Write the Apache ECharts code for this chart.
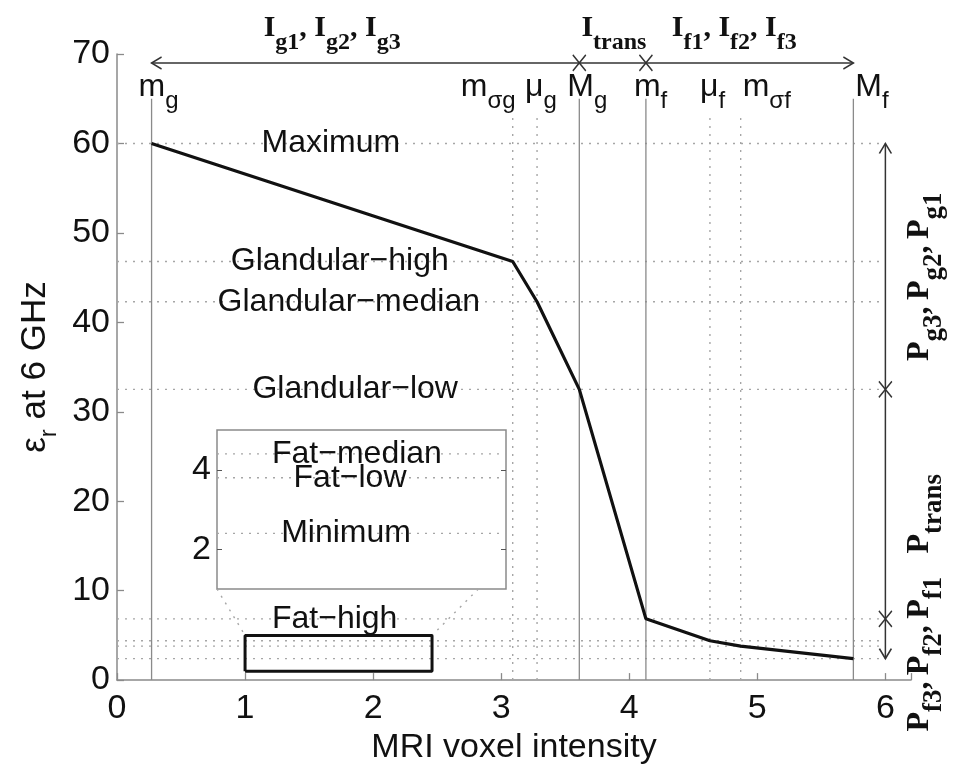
<!DOCTYPE html>
<html><head><meta charset="utf-8">
<script src="https://cdn.jsdelivr.net/npm/echarts@6/dist/echarts.min.js"></script>
<style>html,body{margin:0;padding:0;background:#fff}#c{width:968px;height:770px}</style>
</head><body><div id="c"></div>
<script>
// ---------- data ----------
const xTicks = [0, 1, 2, 3, 4, 5, 6];
const yTicks = [0, 10, 20, 30, 40, 50, 60, 70];
const curveX = [0.27, 3.09, 3.28, 3.61, 4.13, 4.63, 4.87, 5.75];
const curveY = [60, 46.8, 42.3, 32.5, 6.85, 4.4, 3.8, 2.4];
const solidMarks = [0.27, 3.61, 4.13, 5.75];
const dottedMarks = [3.09, 3.28, 4.63, 4.87];
const levelValues = [60, 46.8, 42.3, 32.5, 6.85, 4.4, 3.8, 2.4];
const levelSpan = [0, 6];
const solidTop = 65;
const dottedTop = 63.5;
const markNames = [['m','g'], ['m','σg'], ['μ','g'], ['M','g'], ['m','f'], ['μ','f'], ['m','σf'], ['M','f']];
const markNameY = 66.3;
const levelNames = ['Maximum', 'Glandular\u2212high', 'Glandular\u2212median', 'Glandular\u2212low', 'Fat\u2212high'];
const levelNameX = [1.67, 1.74, 1.81, 1.86, 1.70];
const zoomBoxX = [1, 2.46];
const zoomBoxY = [1, 5];
const insetTicks = [2, 4];
const insetLevels = [4.4, 3.8, 2.4];
const insetNames = ['Fat\u2212median', 'Fat\u2212low', 'Minimum'];
const insetNameX = [1.707, 1.672, 1.652];
const connectorEndX = [1, 2.32];
const arrowY = 69;
const arrowX = 6;
const groupNames = [[['I','g1'],['I','g2'],['I','g3']], [['I','trans']], [['I','f1'],['I','f2'],['I','f3']]];
const groupNameX = [1.68, 3.88, 4.82];
const groupNameY = 72.9;
const partNames = [[['P','g3'],['P','g2'],['P','g1']], [['P','trans']], [['P','f3'],['P','f2'],['P','f1']]];
const partNameX = 6.27;
const partNameY = [45.1, 18.6, 2.9];

// ---------- styles ----------
const SANS = "'Liberation Sans', Arial, Helvetica, sans-serif";
const SERIF = "'Liberation Serif', 'Times New Roman', Times, serif";
const INK = '#111111';
const AXIS = '#8a8a8a';
const DOT = '#a6a6a6';
const DOTS = [2, 6];
const markOffsets = [-13, -52, -12, -12, -12, -10, 2, 2];

const richSans = {
  a: {fontFamily: SANS, fontSize: 32, lineHeight: 52, color: INK, verticalAlign: 'middle'},
  s: {fontFamily: SANS, fontSize: 24, lineHeight: 24, color: INK, verticalAlign: 'bottom'}
};
const richSerif = {
  a: {fontFamily: SERIF, fontWeight: 'bold', fontSize: 30, lineHeight: 54, color: INK, verticalAlign: 'middle'},
  s: {fontFamily: SERIF, fontWeight: 'bold', fontSize: 24, lineHeight: 24, color: INK, verticalAlign: 'bottom'}
};
const richSerifBig = {
  a: {fontFamily: SERIF, fontWeight: 'bold', fontSize: 32, lineHeight: 56, color: INK, verticalAlign: 'middle'},
  s: {fontFamily: SERIF, fontWeight: 'bold', fontSize: 27, lineHeight: 27, color: INK, verticalAlign: 'bottom'}
};
const sub = (parts, sep) => parts.map(p => '{a|' + p[0] + '}{s|' + p[1] + '}').join('{a|' + (sep || ', ') + '}');

const series = [];
const lineSeries = (data, style, extra) => Object.assign({
  type: 'line', xAxisIndex: 0, yAxisIndex: 0, data: data, symbol: 'none', silent: true,
  lineStyle: style, z: 2
}, extra || {});
const dotted = {color: DOT, width: 1.4, type: DOTS};

// horizontal dotted levels
levelValues.forEach(v => series.push(lineSeries([[levelSpan[0], v], [levelSpan[1], v]], dotted)));
// vertical dotted marks
dottedMarks.forEach(x => series.push(lineSeries([[x, 0], [x, dottedTop]], dotted)));
// vertical solid marks
solidMarks.forEach(x => series.push(lineSeries([[x, 0], [x, solidTop]], {color: AXIS, width: 1.3})));
// curve
series.push(lineSeries(curveX.map((x, i) => [x, curveY[i]]), {color: '#111', width: 3.2}, {z: 6}));
// zoom rectangle
series.push(lineSeries([[zoomBoxX[0], zoomBoxY[0]], [zoomBoxX[1], zoomBoxY[0]], [zoomBoxX[1], zoomBoxY[1]],
  [zoomBoxX[0], zoomBoxY[1]], [zoomBoxX[0], zoomBoxY[0]]], {color: '#111', width: 3}, {z: 6}));

// arrows
const arrowStroke = {color: '#333', width: 1.5};
const topA = solidMarks[0], topB = solidMarks[solidMarks.length - 1];
const rightA = curveY[curveY.length - 1], rightB = curveY[0];
series.push(lineSeries([[topA, arrowY], [topB, arrowY]], arrowStroke, {z: 5}));
series.push(lineSeries([[arrowX, rightA], [arrowX, rightB]], arrowStroke, {z: 5, clip: false}));
const markStyle = {color: 'rgba(0,0,0,0)', borderColor: '#333', borderWidth: 1.5, opacity: 1};
const mk = (pt, symbol, size, offset) => ({value: pt, symbol: symbol, symbolSize: size, symbolOffset: offset});
const XSYM = 'path://M0,0L10,12M10,0L0,12';
series.push({
  type: 'scatter', xAxisIndex: 0, yAxisIndex: 0, silent: true, clip: false, z: 7,
  itemStyle: markStyle,
  data: [
    mk([topA, arrowY], 'path://M10,0L0,6L10,12', [10, 12], [5, 0]),
    mk([topB, arrowY], 'path://M0,0L10,6L0,12', [10, 12], [-5, 0]),
    mk([arrowX, rightB], 'path://M0,10L6,0L12,10', [12, 10], [0, 5]),
    mk([arrowX, rightA], 'path://M0,0L6,10L12,0', [12, 10], [0, -5]),
    mk([solidMarks[1], arrowY], XSYM, [13, 16], [0, 0]),
    mk([solidMarks[2], arrowY], XSYM, [13, 16], [0, 0]),
    mk([arrowX, levelValues[3]], XSYM, [13, 16], [0, 0]),
    mk([arrowX, levelValues[4]], XSYM, [13, 16], [0, 0])
  ]
});

// text labels helper
const textSeries = (xi, yi, items) => ({
  type: 'scatter', xAxisIndex: xi, yAxisIndex: yi, silent: true, clip: false, z: 8,
  symbol: 'circle', symbolSize: 1, itemStyle: {color: 'rgba(0,0,0,0)', opacity: 1},
  data: items
});
const txt = (pt, formatter, rich, opts) => ({
  value: pt,
  label: Object.assign({show: true, position: 'inside', formatter: formatter, rich: rich,
    color: INK, opacity: 1, textBorderWidth: 0,
    align: 'center', verticalAlign: 'middle'}, opts || {})
});

series.push(textSeries(0, 0, [
  ...markNames.map((m, i) => txt([curveX[i], markNameY], sub([m]), richSans, {align: 'left', offset: [markOffsets[i], 0]})),
  ...levelNames.map((n, i) => txt([levelNameX[i], levelValues[i]], '{a|' + n + '}', richSans)),
  ...groupNames.map((g, i) => txt([groupNameX[i], groupNameY], sub(g), richSerif)),
  ...partNames.map((g, i) => txt([partNameX, partNameY[i]], sub(g, ',\u2009'), richSerifBig, {rotate: 90}))
]));

// inset
insetLevels.forEach(v => series.push({
  type: 'line', xAxisIndex: 1, yAxisIndex: 1, data: [[zoomBoxX[0], v], [zoomBoxX[1], v]],
  symbol: 'none', silent: true, lineStyle: dotted, z: 4
}));
series.push(textSeries(1, 1, insetNames.map((n, i) => txt([insetNameX[i], insetLevels[i]], '{a|' + n + '}', richSans))));

const option = {
  animation: false,
  backgroundColor: '#fff',
  grid: [
    {left: 117, top: 54, width: 794, height: 635},
    {left: 217, top: 430, width: 289, height: 159, show: true, backgroundColor: '#fff', borderColor: AXIS, borderWidth: 1.5}
  ],
  xAxis: [
    {gridIndex: 0, type: 'value', min: xTicks[0], max: 6.2, interval: xTicks[1] - xTicks[0],
      axisLine: {lineStyle: {color: AXIS, width: 1.5}},
      axisTick: {inside: true, length: 7, lineStyle: {color: AXIS, width: 1.3}},
      axisLabel: {fontSize: 34, color: INK, margin: 12, fontFamily: SANS,
        formatter: v => (xTicks.indexOf(v) >= 0 ? String(v) : '')},
      splitLine: {show: false},
      name: 'MRI voxel intensity', nameLocation: 'middle', nameGap: 42,
      nameTextStyle: {fontSize: 34, color: INK, fontFamily: SANS}},
    {gridIndex: 1, type: 'value', min: zoomBoxX[0], max: zoomBoxX[1], show: false}
  ],
  yAxis: [
    {gridIndex: 0, type: 'value', min: yTicks[0], max: yTicks[yTicks.length - 1], interval: yTicks[1] - yTicks[0],
      axisLine: {show: true, lineStyle: {color: AXIS, width: 1.5}},
      axisTick: {show: true, inside: true, length: 7, lineStyle: {color: AXIS, width: 1.3}},
      axisLabel: {fontSize: 34, color: INK, margin: 7, fontFamily: SANS},
      splitLine: {show: false},
      name: '{e|\u03b5}{s|r}{e| at 6 GHz}', nameLocation: 'middle', nameGap: 55,
      nameTextStyle: {rich: {
        e: {fontSize: 35, lineHeight: 52, color: INK, fontFamily: SANS, verticalAlign: 'middle'},
        s: {fontSize: 24, lineHeight: 24, color: INK, fontFamily: SANS, verticalAlign: 'bottom'}
      }}},
    {gridIndex: 1, type: 'value', min: zoomBoxY[0], max: zoomBoxY[1], position: 'left',
      axisLine: {show: false},
      axisTick: {show: true, inside: true, length: 5, customValues: insetTicks, lineStyle: {color: '#555'}},
      axisLabel: {customValues: insetTicks, fontSize: 34, color: INK, margin: 6, fontFamily: SANS},
      splitLine: {show: false}},
    {gridIndex: 1, type: 'value', min: zoomBoxY[0], max: zoomBoxY[1], position: 'right',
      axisLine: {show: false},
      axisTick: {show: true, inside: true, length: 5, customValues: insetTicks, lineStyle: {color: '#555'}},
      axisLabel: {show: false},
      splitLine: {show: false}}
  ],
  series: series
};

const chart = echarts.init(document.getElementById('c'));
chart.setOption(option);

// dotted connectors between zoom box and inset
const conn = [];
[[connectorEndX[0], zoomBoxX[0]], [connectorEndX[1], zoomBoxX[1]]].forEach(pair => {
  const px = chart.convertToPixel({xAxisIndex: 1, yAxisIndex: 1}, [pair[0], zoomBoxY[0]]);
  const d = chart.convertFromPixel({xAxisIndex: 0, yAxisIndex: 0}, px);
  conn.push(lineSeries([d, [pair[1], zoomBoxY[1]]], dotted, {z: 3}));
});
chart.setOption({series: series.concat(conn)});
</script></body></html>
